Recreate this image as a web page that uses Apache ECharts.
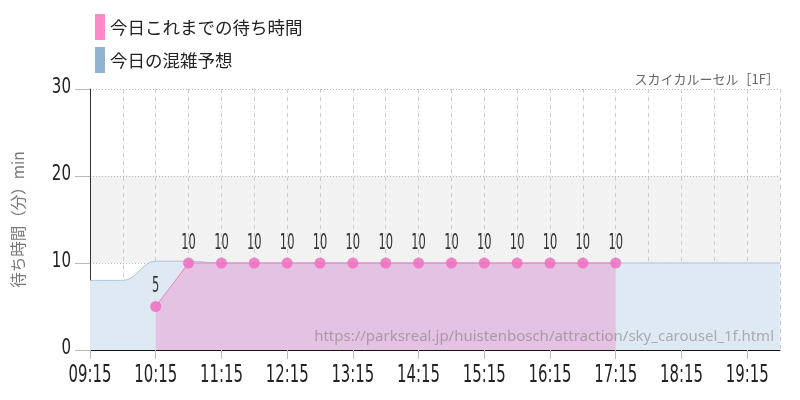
<!DOCTYPE html>
<html>
<head>
<meta charset="utf-8">
<script src="https://cdn.jsdelivr.net/npm/echarts@6/dist/echarts.min.js"></script>
<style>html,body{margin:0;padding:0;background:#fff;}#c{width:800px;height:400px;}</style>
</head>
<body>
<div id="c"></div>
<script>
// categories every 30 minutes
var categories = ['09:15','09:45','10:15','10:45','11:15','11:45','12:15','12:45','13:15','13:45','14:15','14:45','15:15','15:45','16:15','16:45','17:15','17:45','18:15','18:45','19:15','19:45'];
var actualWait = [null,null,5,10,10,10,10,10,10,10,10,10,10,10,10,10,10,null,null,null,null,null];
var forecast = [8,8,10.2,10.2,10,10,10,10,10,10,10,10,10,10,10,10,10,10,10,10,10,10];
var yTicks = [0,10,20,30];
var seriesNames = ['今日これまでの待ち時間','今日の混雑予想'];
var titleText = 'スカイカルーセル［1F］';
var yName = '待ち時間（分）min';
var watermark = 'https://parksreal.jp/huistenbosch/attraction/sky_carousel_1f.html';

var NARROW = '"DejaVu Sans Condensed", "Liberation Sans Narrow", sans-serif';
var CJK = '"Noto Sans CJK JP", "Noto Sans", sans-serif';

// label data derived from arrays above
var xLabelData = categories.map(function (c, i) { return [i, 0]; }).filter(function (d) { return d[0] % 2 === 0; });
var yLabelData = yTicks.map(function (t) { return [0, t]; });
var pointLabelData = actualWait.map(function (v, i) { return [i, v]; }).filter(function (d) { return d[1] != null; });

function narrowText(x, y, text, size, sx, align, fill) {
  return {
    type: 'text', x: x, y: y, scaleX: sx, scaleY: 1, silent: true,
    style: {text: text, fontSize: size, fontFamily: NARROW, fill: fill || '#222', align: align, verticalAlign: 'middle'}
  };
}

var chart = echarts.init(document.getElementById('c'));
chart.setOption({
  animation: false,
  backgroundColor: '#fff',
  title: {
    text: titleText, right: 16, top: 68,
    textStyle: {fontSize: 13, fontWeight: 'normal', color: '#666', fontFamily: CJK}
  },
  legend: {
    orient: 'vertical', left: 90, top: 9, itemWidth: 10, itemHeight: 26, itemGap: 7,
    icon: 'rect', selectedMode: false,
    textStyle: {fontSize: 17.5, color: '#222', fontFamily: CJK},
    data: [
      {name: seriesNames[0], itemStyle: {color: '#ff88c8', borderWidth: 0}},
      {name: seriesNames[1], itemStyle: {color: '#8fb3d3', borderWidth: 0}}
    ]
  },
  grid: {left: 90, right: 20, top: 89, bottom: 50, containLabel: false},
  xAxis: {
    type: 'category', data: categories, boundaryGap: false,
    axisLine: {lineStyle: {color: '#111', width: 1}},
    axisTick: {show: true, interval: 1, length: 9, lineStyle: {color: '#bbb'}},
    axisLabel: {show: false, interval: 1},
    splitLine: {show: true, interval: 0, lineStyle: {color: '#ccc', type: [4,4]}}
  },
  yAxis: {
    type: 'value', min: yTicks[0], max: yTicks[yTicks.length-1], interval: 10,
    name: yName, nameLocation: 'middle', nameGap: 64, nameRotate: 90,
    nameTextStyle: {fontSize: 15.5, color: '#777', fontFamily: CJK},
    axisLine: {show: true, lineStyle: {color: '#333', width: 1}},
    axisTick: {show: true, length: 15, lineStyle: {color: '#bbb'}},
    axisLabel: {show: false},
    splitLine: {show: true, lineStyle: {color: '#bbb', type: [1,2]}},
    splitArea: {show: true, areaStyle: {color: ['rgba(0,0,0,0)', '#f2f2f2']}}
  },
  series: [
    {
      name: seriesNames[1], type: 'line', data: forecast, smooth: 0.4, showSymbol: false,
      symbol: 'none', z: 1,
      lineStyle: {color: '#a9c3da', width: 1},
      itemStyle: {color: '#8fb3d3'},
      areaStyle: {color: '#dfe9f3', opacity: 1}
    },
    {
      name: seriesNames[0], type: 'line', data: actualWait, smooth: false, connectNulls: false,
      symbol: 'circle', symbolSize: 11, z: 3,
      lineStyle: {color: '#f07cc4', width: 1},
      itemStyle: {color: 'rgba(240,110,190,0.85)', borderWidth: 0},
      areaStyle: {color: 'rgba(235,140,205,0.42)', opacity: 1}
    },
    {
      name: 'xlabels', type: 'custom', data: xLabelData, clip: false, z: 10, silent: true,
      renderItem: function (params, api) {
        var p = api.coord([api.value(0), 0]);
        return narrowText(p[0], p[1] + 26, categories[api.value(0)], 24, 0.69, 'center');
      }
    },
    {
      name: 'ylabels', type: 'custom', data: yLabelData, clip: false, z: 10, silent: true,
      renderItem: function (params, api) {
        var p = api.coord([0, api.value(1)]);
        return narrowText(p[0] - 19, p[1] - 1.5, String(api.value(1)), 22, 0.76, 'right');
      }
    },
    {
      name: 'pointlabels', type: 'custom', data: pointLabelData, clip: false, z: 10, silent: true,
      renderItem: function (params, api) {
        var p = api.coord([api.value(0), api.value(1)]);
        return narrowText(p[0], p[1] - 19.5, String(api.value(1)), 20.5, 0.62, 'center', '#333');
      }
    }
  ],
  graphic: [{
    type: 'text', right: 26, top: 329, z: 100,
    style: {text: watermark, fontSize: 15, fill: 'rgba(120,120,120,0.55)', fontFamily: '"Noto Sans", sans-serif'}
  }]
});
</script>
</body>
</html>
